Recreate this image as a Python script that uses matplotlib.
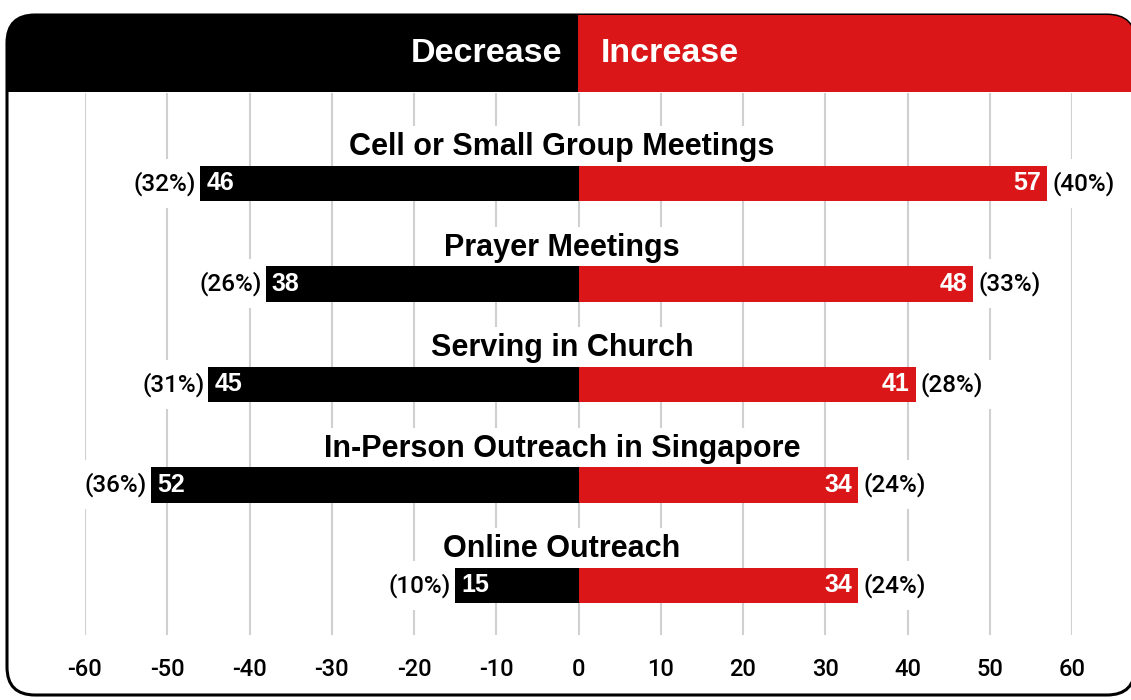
import matplotlib
matplotlib.use("Agg")
import matplotlib.pyplot as plt
from matplotlib.patches import FancyBboxPatch, Rectangle

plt.rcParams["font.family"] = ["Liberation Sans", "DejaVu Sans"]

categories = [
    "Cell or Small Group Meetings",
    "Prayer Meetings",
    "Serving in Church",
    "In-Person Outreach in Singapore",
    "Online Outreach",
]
decrease = [46, 38, 45, 52, 15]
decrease_pct = [32, 26, 31, 36, 10]
increase = [57, 48, 41, 34, 34]
increase_pct = [40, 33, 28, 24, 24]
ticks = list(range(-60, 61, 10))

RED = "#da1618"
MED = ["Roboto", "Liberation Sans", "DejaVu Sans"]
W, H = 1131, 700

fig = plt.figure(figsize=(W / 100, H / 100), dpi=100)

# frame + header, drawn in pixel coords
bg = fig.add_axes([0, 0, 1, 1])
bg.set_xlim(0, W)
bg.set_ylim(H, 0)
bg.axis("off")
frame = FancyBboxPatch((7, 15), 1128, 680, boxstyle="round,pad=0,rounding_size=28",
                       facecolor="white", edgecolor="black", linewidth=2.2, zorder=1)
bg.add_patch(frame)
split = 578
for x0, x1, col in [(0, split, "black"), (split, W + 10, RED)]:
    r = Rectangle((x0, 0), x1 - x0, 92, facecolor=col, edgecolor="none", zorder=2)
    bg.add_patch(r)
    r.set_clip_path(frame)
bg.text(split - 16, 53, "Decrease", color="white", fontsize=24.5, fontweight="bold",
        ha="right", va="center", zorder=3)
bg.text(split + 23, 53, "Increase", color="white", fontsize=24.5, fontweight="bold",
        ha="left", va="center", zorder=3)

# data axes
ax = fig.add_axes([85 / W, (H - 635) / H, 987 / W, 542 / H])
ax.patch.set_alpha(0)
ax.set_xlim(-60, 60)
ax.set_ylim(4.493, -0.900)
for s in ax.spines.values():
    s.set_visible(False)
ax.set_xticks(ticks)
ax.set_xticklabels([str(t) for t in ticks], family=MED, fontweight="medium", fontsize=17)
ax.set_yticks([])
ax.tick_params(axis="x", length=0, pad=16.5)
ax.grid(axis="x", color="#d0d0d0", linewidth=1.5)
ax.set_axisbelow(True)

ys = list(range(len(categories)))
bh = 0.35
ax.barh(ys, [-d for d in decrease], height=bh, color="black", zorder=3)
ax.barh(ys, increase, height=bh, color=RED, zorder=3)

wbox = dict(boxstyle="square,pad=0.5", facecolor="white", edgecolor="none")
for y, cat, d, dp, inc, ip in zip(ys, categories, decrease, decrease_pct, increase, increase_pct):
    ax.text(-2, y - 0.36, cat, ha="center", va="center", fontsize=22, fontweight="bold",
            bbox=dict(boxstyle="square,pad=0.2", facecolor="white", edgecolor="none"), zorder=2)
    ax.annotate(str(d), (-d, y), xytext=(6, 0), textcoords="offset pixels", color="white",
                fontsize=18, fontweight="bold", ha="left", va="center", zorder=4)
    ax.annotate(str(inc), (inc, y), xytext=(-6, 0), textcoords="offset pixels", color="white",
                fontsize=18, fontweight="bold", ha="right", va="center", zorder=4)
    ax.annotate(f"({dp}%)", (-d, y), xytext=(-4, 0), textcoords="offset pixels",
                family=MED, fontweight="medium", fontsize=17.5,
                ha="right", va="center", bbox=wbox, zorder=2)
    ax.annotate(f"({ip}%)", (inc, y), xytext=(5, 0), textcoords="offset pixels",
                family=MED, fontweight="medium", fontsize=17.5,
                ha="left", va="center", bbox=wbox, zorder=2)

fig.savefig("out.png", dpi=100)
